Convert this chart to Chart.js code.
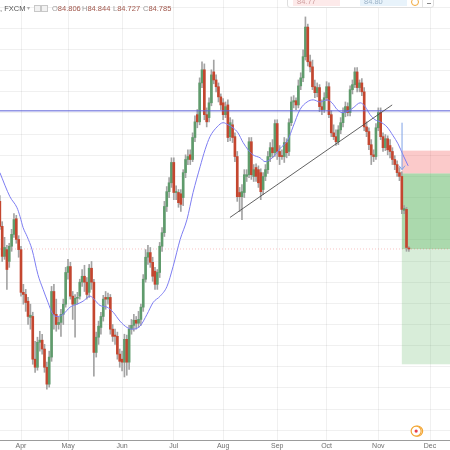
<!DOCTYPE html>
<html>
<head>
<meta charset="utf-8">
<script src="https://cdn.jsdelivr.net/npm/chart.js@4.4.0/dist/chart.umd.min.js"></script>
<style>
  html, body { margin: 0; padding: 0; background: #fff; }
  #wrap { position: relative; width: 450px; height: 450px; overflow: hidden; }
  #chart { position: absolute; left: 0; top: 0; }
  .hdr { position: absolute; top: 4px; font: 7.5px 'Liberation Sans', Arial, sans-serif; white-space: nowrap; line-height: 9px; }
  .lbl { color: #9a9a9a; }
  .val { color: #a0564b; }
  .ico { position: absolute; top: 5px; width: 5px; height: 5px; border: 1px solid #c8c8c8; background: #f2f2f2; }
  #trade { position: absolute; left: 287px; top: -12px; width: 145px; height: 18px; background: #fff; border: 1px solid #dedede; border-radius: 0 0 3px 3px; }
  .fld { position: absolute; top: 0; height: 17px; font: 7.5px 'Liberation Sans', Arial, sans-serif; text-align: left; line-height: 9px; }
</style>
</head>
<body>
<div id="wrap">
  <canvas id="chart" width="450" height="450"></canvas>
  <div class="hdr" style="left:0; color:#555;">, FXCM</div>
  <div class="hdr" style="left:27px; color:#aaa; font-size:6px;">&#9662;</div>
  <div class="ico" style="left:34px;"></div>
  <div class="ico" style="left:41px;"></div>
  <div class="hdr" style="left:52px;"><span class="lbl">O</span><span class="val">84.806</span></div>
  <div class="hdr" style="left:82px;"><span class="lbl">H</span><span class="val">84.844</span></div>
  <div class="hdr" style="left:113px;"><span class="lbl">L</span><span class="val">84.727</span></div>
  <div class="hdr" style="left:143px;"><span class="lbl">C</span><span class="val">84.785</span></div>
  <div id="trade">
    <div class="fld" style="left:5px; width:47px; background:#fdeaea; color:#d1a0a0; padding:8px 0 0 4px; box-sizing:border-box;">84.77</div>
    <div class="fld" style="left:72px; width:47px; background:#e8f3fb; color:#9bb3c8; padding:8px 0 0 4px; box-sizing:border-box;">84.80</div>
    <div style="position:absolute; left:123px; top:9px; width:6px; height:6px; border:1px solid #f2a93b; border-radius:50%;"></div>
    <div style="position:absolute; left:134px; top:0; width:1px; height:18px; background:#e3e3e3;"></div>
    <div style="position:absolute; left:139px; top:14px; width:4px; height:1px; background:#888;"></div>
  </div>
</div>
<script>
// daily candles, 20 Mar .. 20 Nov, index = trading day
var openP = [
  85.91, 85.32, 84.61, 84.77, 84.49, 84.85, 85.13, 85.50, 85.01, 84.77,
  83.76, 83.71, 83.55, 83.17, 83.19, 82.18, 81.99, 82.58, 82.63, 82.42,
  81.99, 81.59, 82.23, 83.78, 83.24, 83.00, 83.05, 83.24, 83.48, 84.23,
  84.37, 83.67, 83.48, 83.62, 83.67, 84.00, 84.14, 84.00, 83.76, 84.33,
  84.00, 82.34, 82.70, 82.93, 83.19, 83.64, 83.60, 83.64, 82.89, 82.75,
  82.72, 82.30, 82.18, 82.11, 82.65, 82.11, 82.89, 82.98, 83.10, 83.03,
  83.12, 83.41, 84.07, 84.59, 84.70, 84.47, 84.26, 83.95, 84.23, 84.85,
  85.17, 85.79, 86.14, 86.35, 86.83, 86.12, 86.12, 86.09, 86.00, 86.59,
  86.90, 87.01, 86.90, 87.42, 87.96, 87.79, 88.71, 89.02, 87.96, 87.89,
  88.24, 88.97, 88.78, 88.62, 88.38, 88.24, 87.96, 88.19, 87.44, 87.72,
  87.44, 86.97, 86.12, 86.02, 86.12, 86.50, 86.54, 87.32, 86.50, 86.71,
  86.66, 86.59, 86.19, 86.50, 86.66, 86.97, 87.18, 87.06, 87.75, 87.09,
  86.99, 86.97, 87.30, 87.09, 87.77, 88.26, 88.29, 88.19, 88.64, 88.83,
  89.33, 90.03, 89.21, 89.09, 88.62, 88.48, 88.60, 88.15, 88.08, 88.36,
  88.62, 87.96, 87.53, 87.44, 87.32, 87.60, 87.77, 88.01, 88.15, 88.01,
  88.55, 88.67, 88.97, 88.60, 88.71, 88.50, 87.67, 87.56, 87.25, 87.01,
  86.97, 87.65, 88.01, 87.44, 87.18, 87.39, 87.23, 87.09, 86.90, 86.78,
  86.59, 86.50, 85.70, 85.72, 84.806
];
var highP = [
  86.05, 85.43, 85.06, 84.87, 84.92, 85.25, 85.62, 85.58, 85.10, 84.85,
  83.95, 83.83, 83.64, 83.48, 83.29, 82.60, 82.70, 82.84, 82.77, 82.53,
  82.11, 82.37, 83.90, 83.95, 83.60, 83.17, 83.36, 83.60, 84.35, 84.54,
  84.47, 83.78, 83.71, 83.76, 84.07, 84.30, 84.40, 84.11, 84.42, 84.49,
  84.07, 82.82, 83.08, 83.29, 83.69, 83.78, 83.74, 83.71, 83.00, 82.89,
  82.82, 82.42, 82.37, 82.77, 82.75, 82.98, 83.12, 83.24, 83.19, 83.31,
  83.48, 84.18, 84.77, 84.87, 84.82, 84.59, 84.35, 84.30, 84.94, 85.29,
  85.91, 86.26, 86.47, 86.94, 86.94, 86.28, 86.19, 86.19, 86.66, 87.01,
  87.13, 87.13, 87.53, 87.93, 88.08, 88.83, 89.21, 89.16, 88.12, 88.36,
  89.02, 89.25, 88.90, 88.71, 88.45, 88.34, 88.26, 88.31, 87.89, 87.84,
  87.53, 87.09, 86.24, 86.31, 86.66, 86.66, 87.42, 87.42, 86.78, 86.80,
  86.75, 86.68, 86.59, 86.78, 87.09, 87.30, 87.37, 87.84, 87.84, 87.23,
  87.13, 87.42, 87.39, 87.86, 88.38, 88.41, 88.36, 88.78, 88.95, 89.49,
  90.27, 90.10, 89.37, 89.25, 88.78, 88.71, 88.67, 88.31, 88.48, 88.74,
  88.71, 88.05, 87.72, 87.60, 87.70, 87.89, 88.12, 88.26, 88.24, 88.64,
  88.78, 89.07, 89.07, 88.78, 88.81, 88.60, 87.79, 87.65, 87.37, 87.13,
  87.75, 88.12, 88.12, 87.53, 87.49, 87.46, 87.37, 87.18, 86.99, 86.87,
  86.71, 86.61, 85.81, 85.77, 84.844
];
var lowP = [
  85.25, 84.49, 84.54, 83.83, 84.35, 84.73, 85.06, 84.92, 84.59, 83.67,
  83.48, 83.31, 83.00, 82.89, 82.06, 81.87, 81.92, 82.37, 82.30, 81.87,
  81.47, 81.52, 82.13, 82.89, 82.84, 82.89, 82.72, 83.00, 83.41, 84.07,
  83.60, 83.12, 82.70, 83.48, 83.60, 83.90, 83.78, 83.60, 83.64, 83.83,
  81.78, 82.23, 82.53, 82.77, 83.08, 83.36, 83.48, 82.77, 82.60, 82.53,
  82.18, 81.99, 81.90, 81.76, 81.80, 81.94, 82.77, 82.84, 82.89, 82.93,
  82.98, 83.31, 84.00, 84.42, 84.35, 84.02, 83.83, 83.83, 84.11, 84.73,
  85.08, 85.67, 86.00, 86.24, 85.95, 85.95, 85.77, 85.67, 85.81, 86.47,
  86.78, 86.78, 86.85, 87.32, 87.65, 87.72, 88.60, 87.84, 87.67, 87.79,
  88.17, 88.69, 88.50, 88.26, 88.08, 87.84, 87.89, 87.32, 87.34, 87.30,
  86.85, 85.91, 85.67, 85.48, 86.00, 86.38, 86.47, 86.43, 86.38, 86.38,
  86.24, 85.95, 86.07, 86.40, 86.57, 86.85, 86.94, 86.97, 86.90, 86.78,
  86.90, 86.83, 86.94, 86.99, 87.70, 88.12, 88.08, 88.12, 88.55, 88.74,
  89.25, 89.11, 88.97, 88.55, 88.36, 88.38, 88.03, 87.96, 88.01, 88.29,
  87.89, 87.44, 87.37, 87.23, 87.25, 87.51, 87.67, 87.91, 87.93, 87.93,
  88.45, 88.60, 88.50, 88.50, 88.41, 87.58, 87.44, 87.13, 86.78, 86.85,
  86.90, 87.58, 87.37, 87.09, 87.11, 87.01, 86.94, 86.78, 86.66, 86.50,
  86.40, 85.62, 85.62, 84.73, 84.727
];
var closeP = [
  85.32, 84.61, 84.82, 84.30, 84.85, 85.13, 85.48, 85.01, 84.77, 83.76,
  83.71, 83.52, 83.19, 83.22, 82.18, 81.99, 82.58, 82.63, 82.42, 81.99,
  81.59, 82.23, 83.78, 83.24, 83.00, 83.05, 83.24, 83.48, 84.23, 84.37,
  83.67, 83.48, 83.62, 83.64, 84.00, 84.14, 84.00, 83.71, 84.33, 84.00,
  82.34, 82.70, 82.96, 83.19, 83.60, 83.60, 83.64, 82.89, 82.72, 82.72,
  82.30, 82.13, 82.11, 82.65, 82.11, 82.89, 82.98, 83.10, 83.03, 83.12,
  83.41, 84.07, 84.59, 84.70, 84.47, 84.14, 83.95, 84.23, 84.85, 85.17,
  85.79, 86.14, 86.35, 86.83, 86.12, 86.14, 85.88, 85.84, 86.59, 86.90,
  86.97, 86.90, 87.42, 87.79, 87.79, 88.71, 89.02, 87.96, 87.79, 88.24,
  88.90, 88.78, 88.62, 88.38, 88.19, 87.96, 88.15, 87.42, 87.77, 87.42,
  86.97, 86.02, 86.02, 86.14, 86.54, 86.54, 87.32, 86.54, 86.66, 86.50,
  86.35, 86.14, 86.50, 86.66, 86.97, 87.18, 87.06, 87.75, 87.09, 86.97,
  86.97, 87.30, 87.06, 87.77, 88.26, 88.29, 88.19, 88.64, 88.83, 89.33,
  90.03, 89.21, 89.09, 88.62, 88.48, 88.60, 88.15, 88.08, 88.36, 88.62,
  87.96, 87.53, 87.44, 87.32, 87.60, 87.77, 88.01, 88.15, 88.01, 88.55,
  88.67, 88.97, 88.60, 88.71, 88.50, 87.67, 87.56, 87.25, 87.01, 86.97,
  87.65, 88.01, 87.44, 87.18, 87.39, 87.13, 87.09, 86.90, 86.78, 86.59,
  86.50, 85.72, 85.74, 84.82, 84.785
];

// blue moving average (trading-day index, price)
var maIdx = [0, 4.3, 7.3, 8.6, 9.9, 11.6, 13.7, 16.2, 18.4, 20.5, 22.6, 24.7, 26.9, 29.9, 32.8, 35.4,
  38.4, 40.5, 42.6, 45.6, 48.2, 51.1, 54.1, 56.2, 59.6, 62.6, 65.2, 68.2, 71.1, 73.7, 76.7, 79.6,
  82.2, 85.2, 87.3, 89.4, 92.4, 95.0, 97.1, 99.2, 101.3, 103.5, 105.6, 107.7, 110.7, 112.8, 115.0,
  117.1, 119.2, 122.6, 124.7, 127.7, 130.7, 133.3, 136.2, 139.2, 141.3, 143.5, 145.6, 147.7, 150.3,
  153.3, 155.4, 157.5, 159.6, 161.8, 164.7, 167.3, 169.4, 171.5, 173.7];
var maVal = [86.59, 86.02, 85.76, 85.55, 85.29, 85.08, 84.77, 84.18, 83.83, 83.52, 83.24, 83.19, 83.24, 83.41, 83.48, 83.55,
  83.67, 83.57, 83.45, 83.41, 83.29, 83.08, 82.93, 82.89, 82.96, 83.24, 83.52, 83.67, 83.90, 84.37, 85.01, 85.48,
  86.12, 86.73, 87.13, 87.44, 87.67, 87.77, 87.72, 87.65, 87.53, 87.30, 87.13, 87.01, 86.94, 86.85, 86.90,
  87.01, 87.16, 87.37, 87.67, 88.08, 88.26, 88.31, 88.26, 88.31, 88.24, 88.08, 88.01, 88.03, 88.12,
  88.24, 88.15, 87.96, 87.84, 87.79, 87.67, 87.46, 87.27, 87.01, 86.75];

// month ticks (index of first trading day)
var monthIdx = [9, 29, 52, 74, 95, 118, 139, 161, 183];
var monthNames = ['Apr', 'May', 'Jun', 'Jul', 'Aug', 'Sep', 'Oct', 'Nov', 'Dec'];

// drawings
var levelLine = 88.05;
var lastPrice = 84.785;
var trendStart = [97.9, 85.53];
var trendEnd = [166.9, 88.19];
var posStart = 171, posEnd = 200;
var stopLevel = 87.11, entryLevel = 86.57, targetLevel = 82.06;
var arrowAt = [171.1, 87.77, 86.66];
var eventAt = [177.1, 80.48];

var xMin = 0.066, xMax = 191.5;
var yMin = 80.27, yMax = 90.67;

var upColor = '#5f9b6c', downColor = '#c4462f', wickColor = '#a3a3a3';
var gridColor = 'rgba(0,0,0,0.06)';

var bodies = [], wicks = [], bodyColors = [];
for (var i = 0; i < closeP.length; i++) {
    bodies.push({x: i, y: [openP[i], closeP[i]]});
    wicks.push({x: i, y: [lowP[i], highP[i]]});
    bodyColors.push(closeP[i] >= openP[i] ? upColor : downColor);
}
var maPoints = maIdx.map(function(k, j) { return {x: k, y: maVal[j]}; });

function band(chart, from, to, p1, p2, color) {
    var c = chart.ctx, xs = chart.scales.x, ys = chart.scales.y;
    var xa = xs.getPixelForValue(from), xb = xs.getPixelForValue(to);
    var ya = ys.getPixelForValue(p1), yb = ys.getPixelForValue(p2);
    c.fillStyle = color;
    c.fillRect(xa, Math.min(ya, yb), xb - xa, Math.abs(yb - ya));
}

function seg(chart, k1, p1, k2, p2, color, dash) {
    var c = chart.ctx, xs = chart.scales.x, ys = chart.scales.y;
    c.beginPath();
    c.setLineDash(dash || []);
    c.strokeStyle = color;
    c.lineWidth = 1;
    c.moveTo(xs.getPixelForValue(k1), ys.getPixelForValue(p1));
    c.lineTo(xs.getPixelForValue(k2), ys.getPixelForValue(p2));
    c.stroke();
    c.setLineDash([]);
}

var drawings = {
    id: 'drawings',
    beforeDatasetsDraw: function(chart) {
        var a = chart.chartArea, c = chart.ctx;
        c.save();
        c.beginPath();
        c.rect(a.left, a.top, a.right - a.left, a.bottom - a.top);
        c.clip();
        // short position box
        band(chart, posStart, posEnd, stopLevel, entryLevel, 'rgba(240,60,60,0.27)');
        band(chart, posStart, posEnd, entryLevel, lastPrice, 'rgba(76,175,80,0.47)');
        band(chart, posStart, posEnd, lastPrice, targetLevel, 'rgba(76,175,80,0.22)');
        seg(chart, xMin, lastPrice, xMax, lastPrice, 'rgba(235,90,90,0.35)', [1, 2]);
        c.restore();
    },
    afterDatasetsDraw: function(chart) {
        var a = chart.chartArea, c = chart.ctx, xs = chart.scales.x, ys = chart.scales.y;
        c.save();
        c.beginPath();
        c.rect(a.left, a.top, a.right - a.left, a.bottom - a.top);
        c.clip();
        seg(chart, xMin, levelLine, xMax, levelLine, '#5b5fd8');
        seg(chart, trendStart[0], trendStart[1], trendEnd[0], trendEnd[1], 'rgba(70,70,70,0.85)');

        // arrow pointing down
        var ax = xs.getPixelForValue(arrowAt[0]);
        var ay1 = ys.getPixelForValue(arrowAt[1]), ay2 = ys.getPixelForValue(arrowAt[2]);
        c.strokeStyle = '#7fa2e6';
        c.lineWidth = 1;
        c.beginPath();
        c.moveTo(ax, ay1);
        c.lineTo(ax, ay2);
        c.moveTo(ax - 3, ay2 - 4);
        c.lineTo(ax, ay2);
        c.lineTo(ax + 3, ay2 - 4);
        c.stroke();

        // event marker on the time line
        var ex = xs.getPixelForValue(eventAt[0]), ey = ys.getPixelForValue(eventAt[1]);
        c.strokeStyle = '#f3a634';
        c.lineWidth = 1.2;
        c.beginPath();
        c.arc(ex + 1.5, ey, 5, 0, Math.PI * 2);
        c.stroke();
        c.beginPath();
        c.arc(ex, ey, 5, 0, Math.PI * 2);
        c.fillStyle = '#fff';
        c.fill();
        c.stroke();
        c.beginPath();
        c.arc(ex, ey, 1.6, 0, Math.PI * 2);
        c.fillStyle = '#e8414b';
        c.fill();
        c.restore();
    }
};

var chart = new Chart(document.getElementById('chart'), {
    type: 'bar',
    data: {
        datasets: [
            {
                type: 'line',
                data: maPoints,
                borderColor: '#7d7df2',
                borderWidth: 1,
                pointRadius: 0,
                tension: 0.4,
                cubicInterpolationMode: 'monotone',
                order: 0
            },
            {
                data: bodies,
                backgroundColor: bodyColors,
                barThickness: 2,
                minBarLength: 1,
                grouped: false,
                borderWidth: 0,
                order: 1
            },
            {
                data: wicks,
                backgroundColor: wickColor,
                barThickness: 1,
                grouped: false,
                borderWidth: 0,
                order: 2
            }
        ]
    },
    options: {
        responsive: false,
        animation: false,
        layout: { padding: 0 },
        plugins: {
            legend: { display: false },
            tooltip: { enabled: false }
        },
        scales: {
            x: {
                type: 'linear',
                min: xMin,
                max: xMax,
                offset: false,
                grid: { color: gridColor, drawTicks: false, offset: false },
                border: { display: true, color: '#9c9c9c', width: 1 },
                afterBuildTicks: function(axis) {
                    axis.ticks = monthIdx.map(function(v) { return {value: v}; });
                },
                afterFit: function(scale) { scale.height = 10; },
                ticks: {
                    autoSkip: false,
                    maxRotation: 0,
                    padding: 2,
                    color: '#6f6f6f',
                    font: { size: 7, family: 'Liberation Sans' },
                    callback: function(value) {
                        var j = monthIdx.indexOf(value);
                        return j >= 0 ? monthNames[j] : '';
                    }
                }
            },
            y: {
                type: 'linear',
                position: 'right',
                min: yMin,
                max: yMax,
                beginAtZero: false,
                grid: { color: gridColor, drawTicks: false },
                border: { display: false },
                afterFit: function(scale) { scale.width = 0; },
                ticks: { display: false, stepSize: 0.5, includeBounds: false }
            }
        }
    },
    plugins: [drawings]
});
</script>
</body>
</html>
